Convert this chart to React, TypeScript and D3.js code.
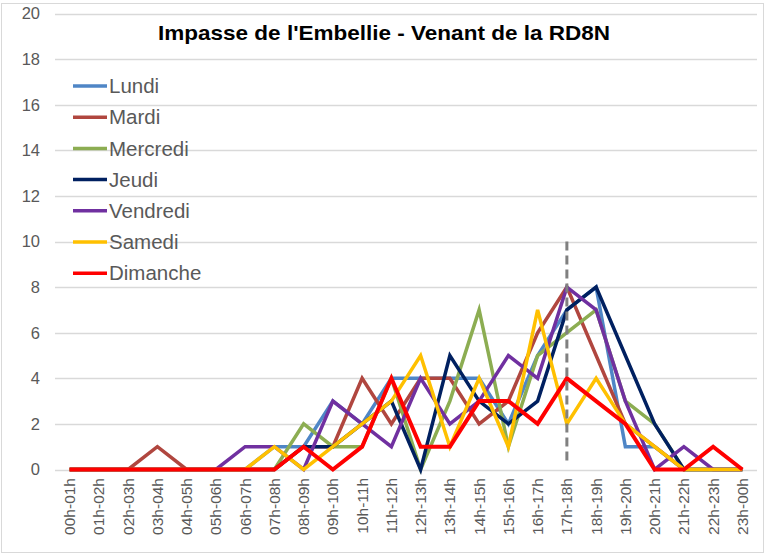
import React from 'react';
import * as d3 from 'd3';

// heures de la journée (axe X)
const hours = [
  '00h-01h', '01h-02h', '02h-03h', '03h-04h', '04h-05h', '05h-06h',
  '06h-07h', '07h-08h', '08h-09h', '09h-10h', '10h-11h', '11h-12h',
  '12h-13h', '13h-14h', '14h-15h', '15h-16h', '16h-17h', '17h-18h',
  '18h-19h', '19h-20h', '20h-21h', '21h-22h', '22h-23h', '23h-00h',
];

const lundi = [0, 0, 0, 0, 0, 0, 0, 1, 1, 3, 2, 4, 4, 4, 4, 2, 5, 7, 8, 1, 1, 0, 0, 0];
const mardi = [0, 0, 0, 1, 0, 0, 0, 0, 1, 1, 4, 2, 4, 4, 2, 3, 6, 8, 5, 2, 1, 0, 0, 0];
const mercredi = [0, 0, 0, 0, 0, 0, 0, 0, 2, 1, 1, 4, 0, 3, 7, 1, 5, 6, 7, 3, 2, 0, 0, 0];
const jeudi = [0, 0, 0, 0, 0, 0, 0, 0, 1, 1, 2, 3, 0, 5, 3, 2, 3, 7, 8, 5, 2, 0, 0, 0];
const vendredi = [0, 0, 0, 0, 0, 0, 1, 1, 0, 3, 2, 1, 4, 2, 3, 5, 4, 8, 7, 3, 0, 1, 0, 0];
const samedi = [0, 0, 0, 0, 0, 0, 0, 1, 0, 1, 2, 3, 5, 1, 4, 1, 7, 2, 4, 2, 1, 0, 0, 0];
const dimanche = [0, 0, 0, 0, 0, 0, 0, 0, 1, 0, 1, 4, 1, 1, 3, 3, 2, 4, 3, 2, 0, 0, 1, 0];

const dayNames = ['Lundi', 'Mardi', 'Mercredi', 'Jeudi', 'Vendredi', 'Samedi', 'Dimanche'];
const dayValues = [lundi, mardi, mercredi, jeudi, vendredi, samedi, dimanche];
const dayColors = ['#4f86c6', '#b0463f', '#8cad52', '#002060', '#7030a0', '#ffc000', '#ff0000'];

const yTicks = [0, 2, 4, 6, 8, 10, 12, 14, 16, 18, 20];
const markerHour = '17h-18h';
const markerTop = 10;

const title = "Impasse de l'Embellie - Venant de la RD8N";

export default function App() {
  const W = 766, H = 554;
  const plot = { left: 55, right: 757, top: 13.5, bottom: 469.5 };

  const x = d3.scaleBand<string>().domain(hours).range([plot.left, plot.right]).padding(0);
  const cx = (h: string) => (x(h) as number) + x.bandwidth() / 2;
  const y = d3.scaleLinear().domain([0, 20]).range([plot.bottom, plot.top]);

  const line = d3.line<number>()
    .x((_, i) => cx(hours[i]))
    .y(d => y(d));

  const labelColor = '#595959';
  const font = "'Liberation Sans', Arial, sans-serif";

  return (
    <svg width={W} height={H} style={{ position: 'absolute', left: 0, top: 0, background: '#fff' }}>
      <rect x={1.5} y={3.5} width={762} height={549} fill="#fff" stroke="#d9d9d9" strokeWidth={1} />

      {/* grille */}
      {yTicks.map(t => (
        <g key={t}>
          <line x1={plot.left} x2={plot.right} y1={Math.round(y(t)) + 0.5} y2={Math.round(y(t)) + 0.5}
            stroke="#d9d9d9" strokeWidth={1.3} />
          <text x={40} y={y(t)} dy="0.36em" textAnchor="end" fontFamily={font} fontSize={16.5}
            fill={labelColor}>{t}</text>
        </g>
      ))}

      {/* étiquettes X */}
      {hours.map(h => (
        <text key={h} transform={`translate(${cx(h) + 5.5},478) rotate(-90)`} textAnchor="end"
          fontFamily={font} fontSize={15.5} fill={labelColor}>{h}</text>
      ))}

      {/* séries */}
      {dayValues.map((vals, i) => (
        <path key={dayNames[i]} d={line(vals) || ''} fill="none" stroke={dayColors[i]}
          strokeWidth={i === 6 ? 4 : 3.5} strokeLinejoin="miter" strokeLinecap="butt" />
      ))}

      {/* repère 17h-18h */}
      <line x1={cx(markerHour)} x2={cx(markerHour)} y1={y(markerTop)} y2={y(0) - 4}
        stroke="#808080" strokeWidth={3} strokeDasharray="9,5" />

      {/* titre */}
      <text x={384} y={40} textAnchor="middle" fontFamily={font} fontWeight="bold" fontSize={20.5}
        fill="#000" textLength={452} lengthAdjust="spacingAndGlyphs">{title}</text>

      {/* légende */}
      {dayNames.map((n, i) => {
        const ly = 86 + i * 31.2;
        return (
          <g key={n}>
            <line x1={73} x2={107} y1={ly} y2={ly} stroke={dayColors[i]} strokeWidth={3.5} />
            <text x={109} y={ly} dy="0.35em" fontFamily={font} fontSize={20.5} fill={labelColor}>{n}</text>
          </g>
        );
      })}
    </svg>
  );
}
